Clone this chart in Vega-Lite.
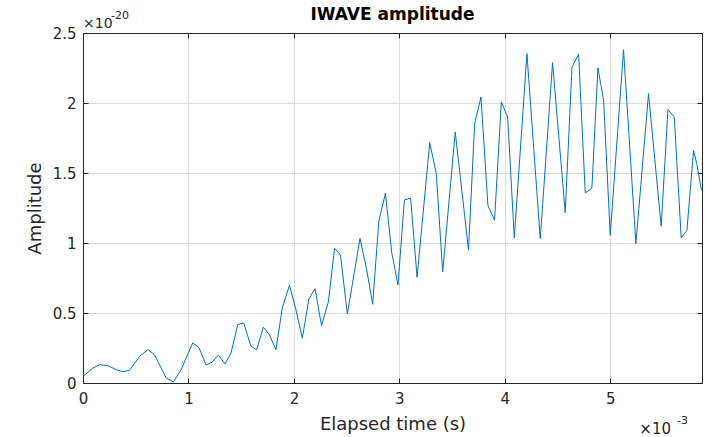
{
  "$schema": "https://vega.github.io/schema/vega-lite/v6.json",
  "autosize": "none",
  "width": 619,
  "height": 350,
  "padding": {"left": 83, "top": 33, "right": 3, "bottom": 54},
  "background": "white",
  "config": {
    "font": "DejaVu Sans",
    "view": {"stroke": "#262626", "strokeWidth": 1},
    "axis": {
      "domainColor": "#262626",
      "tickColor": "#262626",
      "labelColor": "#262626",
      "titleColor": "#262626",
      "labelFont": "DejaVu Sans",
      "titleFont": "DejaVu Sans",
      "labelFontSize": 15,
      "titleFontSize": 18,
      "titleFontWeight": "normal",
      "gridColor": "#dcdcdc",
      "gridOpacity": 1,
      "gridWidth": 1
    }
  },
  "title": {
    "text": "IWAVE amplitude",
    "fontSize": 17,
    "fontWeight": "bold",
    "color": "#000000",
    "font": "DejaVu Sans",
    "offset": 8,
    "dy": 22,
    "anchor": "middle"
  },
  "data": {
    "values": [
      {"t": 0.0, "a": 0.05},
      {"t": 0.016, "a": 0.057},
      {"t": 0.095, "a": 0.107},
      {"t": 0.158, "a": 0.131},
      {"t": 0.237, "a": 0.124},
      {"t": 0.315, "a": 0.095},
      {"t": 0.379, "a": 0.081},
      {"t": 0.44, "a": 0.09},
      {"t": 0.536, "a": 0.19},
      {"t": 0.615, "a": 0.238},
      {"t": 0.678, "a": 0.202},
      {"t": 0.789, "a": 0.036},
      {"t": 0.858, "a": 0.007},
      {"t": 0.93, "a": 0.095},
      {"t": 1.04, "a": 0.286},
      {"t": 1.098, "a": 0.255},
      {"t": 1.167, "a": 0.129},
      {"t": 1.224, "a": 0.148},
      {"t": 1.284, "a": 0.2},
      {"t": 1.347, "a": 0.136},
      {"t": 1.404, "a": 0.214},
      {"t": 1.467, "a": 0.417},
      {"t": 1.524, "a": 0.429},
      {"t": 1.593, "a": 0.262},
      {"t": 1.647, "a": 0.238},
      {"t": 1.71, "a": 0.398},
      {"t": 1.767, "a": 0.345},
      {"t": 1.83, "a": 0.238},
      {"t": 1.89, "a": 0.536},
      {"t": 1.958, "a": 0.698},
      {"t": 2.017, "a": 0.53},
      {"t": 2.08, "a": 0.32},
      {"t": 2.142, "a": 0.6},
      {"t": 2.2, "a": 0.673},
      {"t": 2.262, "a": 0.41},
      {"t": 2.327, "a": 0.58},
      {"t": 2.386, "a": 0.962},
      {"t": 2.442, "a": 0.913},
      {"t": 2.507, "a": 0.493},
      {"t": 2.627, "a": 1.033},
      {"t": 2.69, "a": 0.81},
      {"t": 2.747, "a": 0.562},
      {"t": 2.805, "a": 1.155},
      {"t": 2.868, "a": 1.355},
      {"t": 2.928, "a": 0.93},
      {"t": 2.987, "a": 0.7},
      {"t": 3.048, "a": 1.308},
      {"t": 3.107, "a": 1.32},
      {"t": 3.168, "a": 0.755},
      {"t": 3.288, "a": 1.717},
      {"t": 3.35, "a": 1.497},
      {"t": 3.411, "a": 0.793},
      {"t": 3.53, "a": 1.793},
      {"t": 3.656, "a": 0.95},
      {"t": 3.714, "a": 1.852},
      {"t": 3.774, "a": 2.043},
      {"t": 3.84, "a": 1.268},
      {"t": 3.903, "a": 1.163},
      {"t": 3.967, "a": 2.007},
      {"t": 4.027, "a": 1.9},
      {"t": 4.09, "a": 1.036},
      {"t": 4.21, "a": 2.352},
      {"t": 4.336, "a": 1.031},
      {"t": 4.453, "a": 2.288},
      {"t": 4.573, "a": 1.217},
      {"t": 4.637, "a": 2.257},
      {"t": 4.7, "a": 2.348},
      {"t": 4.763, "a": 1.357},
      {"t": 4.826, "a": 1.393},
      {"t": 4.883, "a": 2.25},
      {"t": 4.937, "a": 2.019},
      {"t": 5.0, "a": 1.055},
      {"t": 5.126, "a": 2.381},
      {"t": 5.243, "a": 0.995},
      {"t": 5.363, "a": 2.067},
      {"t": 5.483, "a": 1.119},
      {"t": 5.547, "a": 1.952},
      {"t": 5.607, "a": 1.9},
      {"t": 5.673, "a": 1.036},
      {"t": 5.727, "a": 1.09},
      {"t": 5.79, "a": 1.662},
      {"t": 5.82, "a": 1.567},
      {"t": 5.865, "a": 1.376}
    ]
  },
  "resolve": {"axis": {"x": "independent", "y": "independent"}},
  "layer": [
    {
      "mark": {"type": "line", "color": "#0072BD", "strokeWidth": 1, "clip": true},
      "encoding": {
        "x": {
          "field": "t", "type": "quantitative",
          "scale": {"domain": [0, 5.87], "nice": false, "zero": false},
          "axis": {
            "title": "Elapsed time (s)",
            "values": [0, 1, 2, 3, 4, 5],
            "labelExpr": "'' + datum.value",
            "labelFlush": false,
            "tickSize": -5,
            "labelPadding": 13,
            "titlePadding": 9,
            "grid": true
          }
        },
        "y": {
          "field": "a", "type": "quantitative",
          "scale": {"domain": [0, 2.5], "nice": false, "zero": true},
          "axis": {
            "title": "Amplitude",
            "values": [0, 0.5, 1, 1.5, 2, 2.5],
            "labelExpr": "'' + datum.value",
            "labelFlush": false,
            "tickSize": -5,
            "labelPadding": 12,
            "titlePadding": 8,
            "grid": true
          }
        }
      }
    },
    {
      "mark": {"type": "point", "opacity": 0},
      "encoding": {
        "x": {
          "field": "t", "type": "quantitative",
          "scale": {"domain": [0, 5.87], "nice": false, "zero": false},
          "axis": {"orient": "top", "title": null, "labels": false, "values": [0, 1, 2, 3, 4, 5], "tickSize": -5, "grid": false}
        },
        "y": {
          "field": "a", "type": "quantitative",
          "scale": {"domain": [0, 2.5], "nice": false},
          "axis": {"orient": "right", "title": null, "labels": false, "values": [0, 0.5, 1, 1.5, 2, 2.5], "tickSize": -5, "grid": false}
        }
      }
    },
    {
      "data": {"values": [{"label": "×10", "exp": "-20"}]},
      "mark": {"type": "text", "align": "left", "baseline": "alphabetic", "dx": 0, "dy": -5, "fontSize": 14, "color": "#262626", "font": "DejaVu Sans"},
      "encoding": {"x": {"datum": 0, "axis": null}, "y": {"datum": 2.5, "axis": null}, "text": {"field": "label"}}
    },
    {
      "data": {"values": [{"label": "×10", "exp": "-20"}]},
      "mark": {"type": "text", "align": "left", "baseline": "alphabetic", "dx": 28, "dy": -14, "fontSize": 11, "color": "#262626", "font": "DejaVu Sans"},
      "encoding": {"x": {"datum": 0, "axis": null}, "y": {"datum": 2.5, "axis": null}, "text": {"field": "exp"}}
    },
    {
      "data": {"values": [{"label": "×10", "exp": "-3"}]},
      "mark": {"type": "text", "align": "right", "baseline": "alphabetic", "dx": -31, "dy": 51, "fontSize": 15, "color": "#262626", "font": "DejaVu Sans"},
      "encoding": {"x": {"datum": 5.87, "axis": null}, "y": {"datum": 0, "axis": null}, "text": {"field": "label"}}
    },
    {
      "data": {"values": [{"label": "×10", "exp": "-3"}]},
      "mark": {"type": "text", "align": "right", "baseline": "alphabetic", "dx": -14, "dy": 41, "fontSize": 11, "color": "#262626", "font": "DejaVu Sans"},
      "encoding": {"x": {"datum": 5.87, "axis": null}, "y": {"datum": 0, "axis": null}, "text": {"field": "exp"}}
    }
  ]
}
